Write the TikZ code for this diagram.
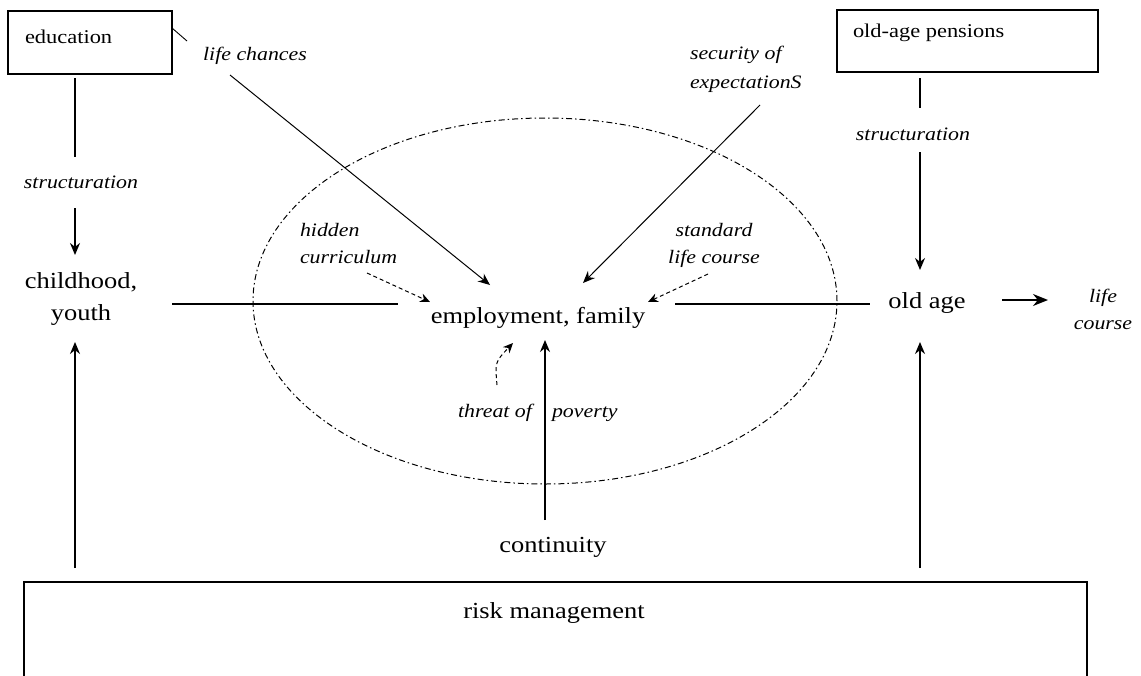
\documentclass[tikz,border=0pt]{standalone}
\usepackage{fontspec}
\setmainfont{Liberation Serif}[FakeStretch=1.15]
\usetikzlibrary{arrows.meta,calc,shapes.geometric}
\newcommand\mybigf{\fontsize{23}{32}\selectfont}
\newcommand\myitf{\itshape\fontsize{19}{26.5}\selectfont}
\newcommand\myboxf{\fontsize{19.5}{24}\selectfont}
\begin{document}
\begin{tikzpicture}[x=1pt,y=-1pt,
  every node/.style={inner sep=0pt, outer sep=0pt},
  big/.style={font=\mybigf},
  ital/.style={font=\myitf},
  boxlbl/.style={font=\myboxf},
  frame/.style={draw, line width=1.6pt, inner sep=0pt},
  conn/.style={line width=1.4pt},
  thinln/.style={line width=0.9pt},
  arr/.style={conn, -{Stealth[length=12pt,width=10pt]}},
  bigarr/.style={line width=1.8pt, -{Stealth[length=15pt,width=12pt]}},
  diagarr/.style={line width=1pt, -{Stealth[length=12pt,width=10pt]}},
  dasharr/.style={line width=1pt, dash pattern=on 4pt off 3pt, -{Stealth[length=10pt,width=9pt]}},
  ring/.style={draw, ellipse, line width=1pt, dash pattern=on 6pt off 3pt on 1.5pt off 3pt}
]
\useasboundingbox (0,0) rectangle (1141,675);
% boxes
\node[frame, minimum width=164pt, minimum height=63pt, anchor=north west] (edu) at (8,11) {};
\node[boxlbl, anchor=base west] (edutxt) at (25,43) {education};
\node[frame, minimum width=261pt, minimum height=62pt, anchor=north west] (pens) at (837,10) {};
\node[boxlbl, anchor=base west] (penstxt) at (853,37) {old-age pensions};
\node[frame, minimum width=1063pt, minimum height=110pt, anchor=north west] (risk) at (24,582) {};
\node[big, anchor=base] (risktxt) at (554,618) {risk management};
% ellipse
\node[ring, minimum width=584pt, minimum height=366pt] (oval) at (545,301) {};
% texts (multi-line nodes: base = baseline of last line)
\node[ital, anchor=base] (lifech) at (255,60) {life chances};
\node[ital, anchor=base west, align=left] (secur) at (690,88) {security of\\[2.5pt]expectationS};
\node[ital, anchor=base] (struc1) at (81,188) {structuration};
\node[ital, anchor=base] (struc2) at (913,140) {structuration};
\node[big, align=center, anchor=base] (child) at (81,320) {childhood,\\youth};
\node[big, anchor=base] (empl) at (538,323) {employment, family};
\node[big, anchor=base] (old) at (927,308) {old age};
\node[ital, align=center, anchor=base] (lifec) at (1103,329) {life\\course};
\node[ital, align=left, anchor=base west] (hidden) at (300,263) {hidden\\curriculum};
\node[ital, align=center, anchor=base] (standard) at (714,263) {standard\\life course};
\node[ital, anchor=base east] (threat) at (532,417) {threat of};
\node[ital, anchor=base west] (poverty) at (552,417) {poverty};
\node[big, anchor=base] (cont) at (553,552) {continuity};
% connectors
\draw[thinln] ($(edu.north east)+(0,17)$) -- ($(lifech.base)+(-68,-19)$);
\draw[conn] ($(edu.south)+(-15,4)$) -- ($(struc1.base)+(-6,-31)$);
\draw[arr] ($(struc1.base)+(-6,20)$) -- ($(child.base)+(-6,-65)$);
\draw[arr] ($(risk.north west)+(51,-14)$) -- ($(child.base)+(-6,22)$);
\draw[conn] ($(child.base)+(91,-16)$) -- ($(empl.base)+(-140,-19)$);
\draw[conn] ($(empl.base)+(137,-19)$) -- ($(old.base)+(-57,-4)$);
\draw[conn] ($(pens.south)+(-47.5,6)$) -- ($(struc2.base)+(7,-32)$);
\draw[arr] ($(struc2.base)+(7,12)$) -- ($(old.base)+(-7,-38)$);
\draw[arr] ($(risk.north west)+(896,-14)$) -- ($(old.base)+(-7,34)$);
\draw[bigarr] ($(old.base)+(75,-8)$) -- ($(lifec.base)+(-55,-29)$);
\draw[diagarr] ($(lifech.base)+(-25,15)$) -- ($(empl.base)+(-48,-38)$);
\draw[diagarr] ($(secur.base west)+(70,17)$) -- ($(empl.base)+(45,-40)$);
\draw[dasharr] ($(hidden.base west)+(67,10)$) -- ($(empl.base)+(-108,-21)$);
\draw[dasharr] ($(standard.base)+(-6,11)$) -- ($(empl.base)+(110,-21)$);
\draw[dasharr] ($(threat.base east)+(-35,-32)$) .. controls ($(threat.base east)+(-37,-55)$) .. ($(threat.base east)+(-19,-74)$);
\draw[arr] ($(cont.base)+(-8,-32)$) -- ($(empl.base)+(7,17)$);
\end{tikzpicture}
\end{document}
